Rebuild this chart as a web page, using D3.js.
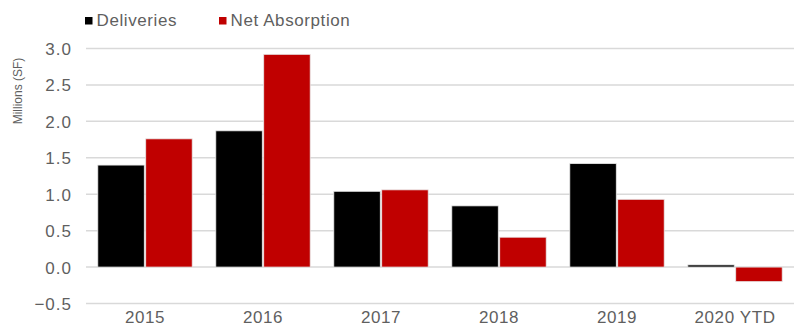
<!DOCTYPE html>
<html><head><meta charset="utf-8">
<script src="https://cdn.jsdelivr.net/npm/d3@7"></script>
<style>
html,body{margin:0;padding:0;background:#fff;}
svg{display:block;font-family:"Liberation Sans",Arial,Helvetica,sans-serif;}
</style></head>
<body><svg id="c" width="796" height="329"></svg>
<script>
const categories = ["2015","2016","2017","2018","2019","2020 YTD"];
const seriesNames = ["Deliveries","Net Absorption"];
const deliveries = [1.40, 1.87, 1.04, 0.84, 1.42, 0.03];
const netAbsorption = [1.76, 2.92, 1.06, 0.41, 0.93, -0.20];
const yTicks = [-0.5, 0.0, 0.5, 1.0, 1.5, 2.0, 2.5, 3.0];
const colors = ["#000000", "#C00000"];

const svg = d3.select("#c");
const textColor = "#5f5f5f";

const x = d3.scaleBand().domain(categories).range([86, 794]).paddingInner(0.2).paddingOuter(0.1);
const xs = d3.scaleBand().domain(seriesNames).range([0, x.bandwidth()]).paddingInner(0.03);
const y = d3.scaleLinear().domain([-0.5, 3.0]).range([303.5, 48.5]);

// gridlines
svg.append("g").selectAll("line").data(yTicks).join("line")
  .attr("x1", 86).attr("x2", 794)
  .attr("y1", d => y(d)).attr("y2", d => y(d))
  .attr("stroke", "#d9d9d9").attr("stroke-width", 1.5);

// y axis labels
const yAxis = d3.axisLeft(y).tickValues(yTicks).tickFormat(d3.format(".1f")).tickSize(0).tickPadding(0);
const ya = svg.append("g").attr("transform", "translate(72,0)").call(yAxis);
ya.select(".domain").remove();
ya.selectAll("text").attr("fill", textColor).style("font-size", "17px").style("letter-spacing", "1px")
  .attr("dy", "0.35em").attr("font-family", null);

// x axis labels
const xAxis = d3.axisBottom(x).tickSize(0).tickPadding(0);
const xa = svg.append("g").attr("transform", "translate(0,308)").call(xAxis);
xa.select(".domain").remove();
xa.selectAll("text").attr("fill", textColor).style("font-size", "17px").style("letter-spacing", "0.6px")
  .attr("dy", "0.9em").attr("font-family", null);

// bars
const data = categories.map((c, i) => ({cat: c, vals: [deliveries[i], netAbsorption[i]]}));
const groups = svg.append("g").selectAll("g").data(data).join("g")
  .attr("transform", d => `translate(${x(d.cat)},0)`);
groups.selectAll("rect").data(d => d.vals.map((v, j) => ({name: seriesNames[j], v, j}))).join("rect")
  .attr("x", d => xs(d.name))
  .attr("width", xs.bandwidth())
  .attr("y", d => y(Math.max(0, d.v)))
  .attr("height", d => Math.abs(y(d.v) - y(0)))
  .attr("fill", d => colors[d.j])
  .attr("stroke", "#e8e8e8").attr("stroke-width", 0.8);

// y title
svg.append("text")
  .attr("transform", "translate(22,91) rotate(-90)")
  .attr("text-anchor", "middle")
  .attr("fill", textColor).style("font-size", "12px")
  .text("Millions (SF)");

// legend
const legX = [85, 219];
const leg = svg.append("g").selectAll("g").data(seriesNames).join("g")
  .attr("transform", (d, i) => `translate(${legX[i]},0)`);
leg.append("rect").attr("x", 0).attr("y", 17).attr("width", 7.5).attr("height", 7.5)
  .attr("fill", (d, i) => colors[i]);
leg.append("text").attr("x", 11.5).attr("y", 25.5)
  .attr("fill", textColor).style("font-size", "17px").style("letter-spacing", "0.6px").text(d => d);
</script></body></html>
